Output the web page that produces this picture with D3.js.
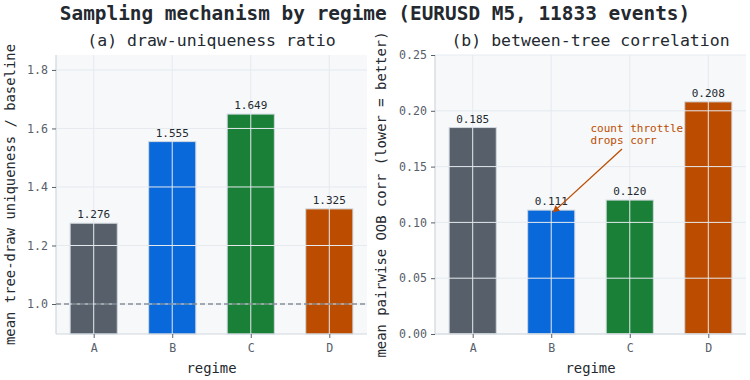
<!DOCTYPE html>
<html>
<head>
<meta charset="utf-8">
<script src="https://cdn.jsdelivr.net/npm/d3@7"></script>
<style>
  body { margin: 0; background: #fff; }
  svg { display: block; font-family: "DejaVu Sans Mono", monospace; }
</style>
</head>
<body>
<svg id="chart" width="750" height="380"></svg>
<script>
// data
const regimes = ["A", "B", "C", "D"];
const uniqRatio = [1.276, 1.555, 1.649, 1.325];
const treeCorr = [0.185, 0.111, 0.120, 0.208];
const uniqTicks = [1.0, 1.2, 1.4, 1.6, 1.8];
const corrTicks = [0.00, 0.05, 0.10, 0.15, 0.20, 0.25];

const barColors = ["#57606a", "#0969da", "#1a7f37", "#bc4c00"];
const ink = "#24292f";
const muted = "#57606a";
const gridCol = "#e6eaef";
const spineCol = "#d0d7de";

let svg = d3.select("#chart");

svg.append("text")
  .attr("x", 375)
  .attr("y", 20)
  .attr("text-anchor", "middle")
  .style("font-size", "19.4px")
  .style("font-weight", "bold")
  .style("fill", ink)
  .text("Sampling mechanism by regime (EURUSD M5, 11833 events)");

function panel(opts) {
  const { left, right, top, bottom, domain, ticks, fmt, values, title, ylabel, ylabelX, valueFmt } = opts;

  // x band: bars 0.6 wide, matplotlib style margins
  let x = d3.scaleLinear().domain([-0.48, 3.48]).range([left, right]);
  let y = d3.scaleLinear().domain(domain).range([bottom, top]);
  let bw = x(0.6) - x(0);

  let g = svg.append("g");

  g.append("rect")
    .attr("x", left).attr("y", top)
    .attr("width", right - left).attr("height", bottom - top)
    .style("fill", "#f6f8fa");

  g.selectAll(".bar")
    .data(values)
    .enter()
    .append("rect")
    .attr("class", "bar")
    .attr("x", (d, i) => x(i) - bw / 2)
    .attr("y", d => y(d))
    .attr("width", bw)
    .attr("height", d => bottom - y(d))
    .style("fill", (d, i) => barColors[i])
    .style("stroke", spineCol)
    .style("stroke-width", 1);

  // grid on top of bars
  g.selectAll(".hgrid")
    .data(ticks)
    .enter()
    .append("line")
    .attr("x1", left).attr("x2", right)
    .attr("y1", d => y(d)).attr("y2", d => y(d))
    .style("stroke", gridCol)
    .style("stroke-width", 1);

  g.selectAll(".vgrid")
    .data(regimes)
    .enter()
    .append("line")
    .attr("x1", (d, i) => x(i)).attr("x2", (d, i) => x(i))
    .attr("y1", top).attr("y2", bottom)
    .style("stroke", gridCol)
    .style("stroke-width", 1);

  // value labels
  g.selectAll(".val")
    .data(values)
    .enter()
    .append("text")
    .attr("x", (d, i) => x(i))
    .attr("y", d => y(d) - 5)
    .attr("text-anchor", "middle")
    .style("font-size", "11px")
    .style("fill", ink)
    .text(d => valueFmt(d));

  // axes
  let yAxis = d3.axisLeft(y).tickValues(ticks).tickFormat(fmt).tickSize(4).tickPadding(4);
  let ya = g.append("g").attr("transform", `translate(${left},0)`).call(yAxis);
  let xAxis = d3.axisBottom(x).tickValues(d3.range(regimes.length)).tickFormat(i => regimes[i]).tickSize(4).tickPadding(6);
  let xa = g.append("g").attr("transform", `translate(0,${bottom})`).call(xAxis);

  [ya, xa].forEach(a => {
    a.select(".domain").style("stroke", spineCol).style("stroke-width", 1.2);
    a.selectAll(".tick line").style("stroke", muted);
    a.selectAll(".tick text")
      .style("fill", muted)
      .style("font-size", "11.6px")
      .style("font-family", "DejaVu Sans Mono");
  });
  ya.select(".domain").attr("d", `M0,${bottom}V${top}`);
  xa.select(".domain").attr("d", `M${left},0H${right}`);

  g.append("text")
    .attr("x", (left + right) / 2)
    .attr("y", 46)
    .attr("text-anchor", "middle")
    .style("font-size", "16.5px")
    .style("fill", ink)
    .text(title);

  g.append("text")
    .attr("x", (left + right) / 2)
    .attr("y", 373)
    .attr("text-anchor", "middle")
    .style("font-size", "13.9px")
    .style("fill", ink)
    .text("regime");

  g.append("text")
    .attr("transform", `translate(${ylabelX},${(top + bottom) / 2}) rotate(-90)`)
    .attr("text-anchor", "middle")
    .style("font-size", "13.9px")
    .style("fill", ink)
    .text(ylabel);

  return { g, x, y };
}

let a = panel({
  left: 56, right: 367, top: 55, bottom: 334,
  domain: [0.8975, 1.851],
  ticks: uniqTicks,
  fmt: d3.format(".1f"),
  values: uniqRatio,
  valueFmt: d3.format(".3f"),
  title: "(a) draw-uniqueness ratio",
  ylabel: "mean tree-draw uniqueness / baseline",
  ylabelX: 15
});

// baseline at 1.0
a.g.append("line")
  .attr("x1", 56).attr("x2", 367)
  .attr("y1", a.y(1.0)).attr("y2", a.y(1.0))
  .style("stroke", muted)
  .style("stroke-width", 1.2)
  .style("stroke-dasharray", "5,3");

let b = panel({
  left: 435, right: 746, top: 55, bottom: 334,
  domain: [0, 0.25],
  ticks: corrTicks,
  fmt: d3.format(".2f"),
  values: treeCorr,
  valueFmt: d3.format(".3f"),
  title: "(b) between-tree correlation",
  ylabel: "mean pairwise OOB corr (lower = better)",
  ylabelX: 386
});

// annotation
const orange = "#bc4c00";
let defs = svg.append("defs");
defs.append("marker")
  .attr("id", "arrow")
  .attr("viewBox", "0 0 10 10")
  .attr("refX", 9).attr("refY", 5)
  .attr("markerWidth", 7).attr("markerHeight", 7)
  .attr("markerUnits", "userSpaceOnUse")
  .attr("orient", "auto")
  .append("path")
  .attr("d", "M0,0L10,5L0,10z")
  .style("fill", orange);

b.g.append("line")
  .attr("x1", 622).attr("y1", 149)
  .attr("x2", b.x(1) + 2).attr("y2", b.y(treeCorr[1]) + 2)
  .style("stroke", orange)
  .style("stroke-width", 1.3)
  .attr("marker-end", "url(#arrow)");

let ann = b.g.append("text")
  .style("font-size", "11px")
  .style("fill", orange);
ann.append("tspan").attr("x", b.x(1.5)).attr("y", 132).text("count throttle");
ann.append("tspan").attr("x", b.x(1.5)).attr("y", 144).text("drops corr");
</script>
</body>
</html>
